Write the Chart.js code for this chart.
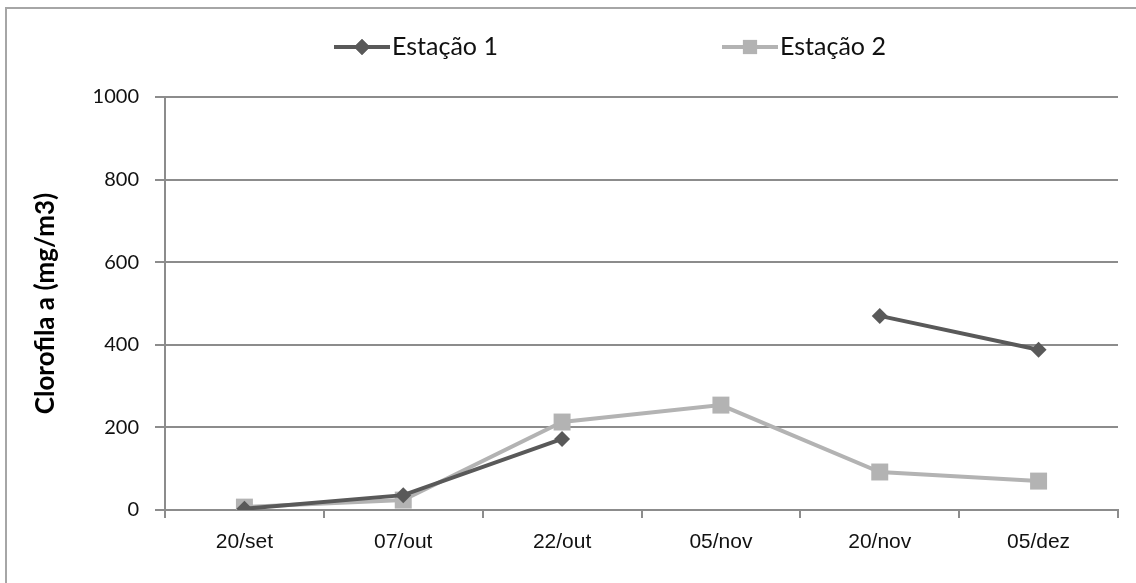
<!DOCTYPE html>
<html>
<head>
<meta charset="utf-8">
<script src="https://cdn.jsdelivr.net/npm/chart.js@4"></script>
<style>
  html, body { margin: 0; padding: 0; background: #fff; }
  #wrap { width: 1136px; height: 583px; }
</style>
</head>
<body>
<div id="wrap"><canvas id="lineChart" width="1136" height="583"></canvas></div>
<script>
// data
var labels = ["20/set", "07/out", "22/out", "05/nov", "20/nov", "05/dez"];
var estacao1 = [3, 36, 172, null, 470, 388];
var estacao2 = [7, 24, 213, 254, 92, 70];
var yTicks = [0, 200, 400, 600, 800, 1000];

var FONT = "Lato, 'Open Sans', sans-serif";
var XFONT = "'Liberation Sans', Arial, sans-serif";
var dark = "#595959";
var light = "#b3b3b3";

// frame + legend drawn like the spreadsheet one (line with marker in the middle)
var framePlugin = {
  id: "frame",
  beforeDraw: function (chart) {
    var c = chart.ctx;
    c.save();
    c.strokeStyle = "#a6a6a6";
    c.lineWidth = 2;
    c.beginPath();
    c.moveTo(6, chart.height);
    c.lineTo(6, 8);
    c.lineTo(chart.width, 8);
    c.stroke();
    c.restore();
  },
  afterDraw: function (chart) {
    var c = chart.ctx;
    var items = [
      { x: 334, text: "Estação 1", color: dark, style: "rectRot", r: 8 },
      { x: 722, text: "Estação 2", color: light, style: "rect", r: 10 },
    ];
    var y = 47;
    c.save();
    items.forEach(function (it) {
      c.strokeStyle = it.color;
      c.lineWidth = 4;
      c.beginPath();
      c.moveTo(it.x, y);
      c.lineTo(it.x + 56, y);
      c.stroke();
      c.fillStyle = it.color;
      Chart.helpers.drawPoint(c, { pointStyle: it.style, radius: it.r, borderWidth: 0 }, it.x + 28, y);
      c.fill();
      c.fillStyle = "#111";
      c.font = "25px " + FONT;
      c.textBaseline = "middle";
      c.textAlign = "left";
      c.fillText(it.text, it.x + 58, y);
    });
    c.restore();
  },
};

var ctx = document.getElementById("lineChart").getContext("2d");

var myChart = new Chart(ctx, {
  type: "line",
  data: {
    labels: labels,
    datasets: [
      {
        label: "Estação 1",
        data: estacao1,
        borderColor: dark,
        backgroundColor: dark,
        borderWidth: 4,
        pointStyle: "rectRot",
        pointRadius: 8,
        pointBorderWidth: 0,
        spanGaps: false,
      },
      {
        label: "Estação 2",
        data: estacao2,
        borderColor: light,
        backgroundColor: light,
        borderWidth: 4,
        pointStyle: "rect",
        pointRadius: 12,
        pointBorderWidth: 0,
      },
    ],
  },
  options: {
    responsive: false,
    animation: false,
    layout: { padding: { top: 97, right: 18, left: 0, bottom: 0 } },
    plugins: {
      legend: { display: false },
      tooltip: { enabled: false },
    },
    scales: {
      x: {
        offset: true,
        grid: {
          offset: true,
          drawOnChartArea: false,
          drawTicks: true,
          tickLength: 8,
          color: "#8c8c8c",
          lineWidth: 2,
        },
        border: { color: "#8c8c8c", width: 2 },
        ticks: {
          color: "#111",
          font: { family: XFONT, size: 21 },
          padding: 12,
          maxRotation: 0,
        },
        afterFit: function (scale) {
          scale.height = 73;
        },
      },
      y: {
        min: 0,
        max: 1000,
        afterBuildTicks: function (scale) {
          scale.ticks = yTicks.map(function (v) { return { value: v }; });
        },
        grid: {
          color: "#8c8c8c",
          lineWidth: 2,
          tickLength: 10,
        },
        border: { color: "#8c8c8c", width: 2 },
        ticks: {
          color: "#111",
          font: { family: FONT, size: 20 },
          padding: 16,
          callback: function (v) { return String(v); },
        },
        title: {
          display: true,
          text: "Clorofila a (mg/m3)",
          color: "#000",
          font: { family: FONT, size: 26, weight: "bold" },
          padding: { top: 30, bottom: 0 },
        },
        afterFit: function (scale) {
          scale.width = 165;
        },
      },
    },
  },
  plugins: [framePlugin],
});
</script>
</body>
</html>
